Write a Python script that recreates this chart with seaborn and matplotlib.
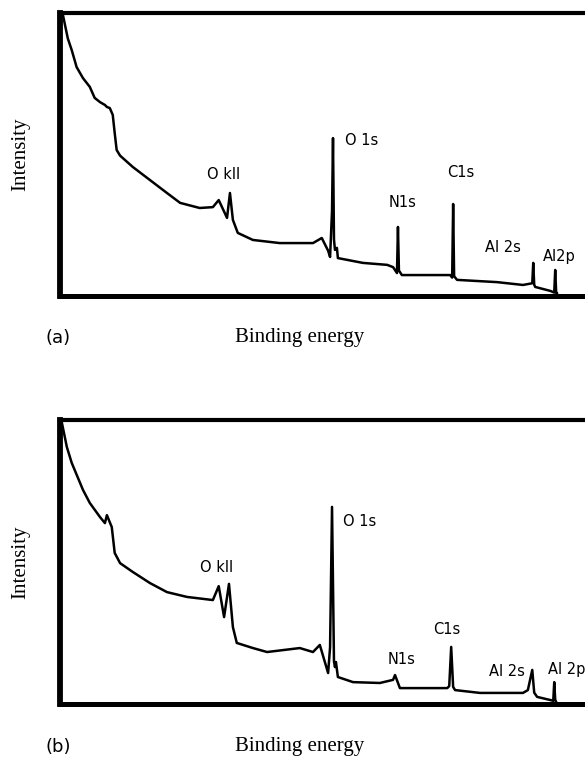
import numpy as np
import pandas as pd
import matplotlib
matplotlib.use("Agg")
import matplotlib.pyplot as plt
import seaborn as sns

# ---------------- DATA ----------------
# binding energy in eV (high on the left), intensity in arbitrary units 0-100
be_a = [1088, 1084, 1074, 1066, 1056, 1043, 1029, 1019, 1008, 998, 994, 988,
        982, 978, 974, 967, 941, 906, 871, 844, 804, 777, 765, 748, 742, 736,
        726, 695, 640, 572, 554, 541, 537, 533, 531, 529, 527, 523, 521, 470,
        420, 408, 400, 398, 396, 390, 332, 291, 287, 285, 283, 277, 195, 142,
        123, 121, 119, 117, 86, 78, 76, 74, 72]
int_a = [100.5, 99.3, 91.0, 86.9, 80.9, 77.0, 73.9, 70.0, 68.5, 67.5, 66.8,
         66.4, 64.0, 57.6, 51.6, 49.6, 45.6, 41.0, 36.4, 32.9, 31.1, 31.4,
         33.9, 27.6, 36.4, 26.9, 22.3, 19.8, 18.7, 18.7, 20.5, 16.0, 13.8,
         30.0, 55.8, 20.0, 16.3, 17.0, 13.4, 11.7, 11.0, 10.2, 8.1, 24.4, 9.0,
         7.4, 7.4, 7.4, 6.5, 32.5, 7.0, 5.7, 4.9, 3.9, 4.5, 11.7, 4.0, 3.2,
         1.8, 1.2, 9.2, 1.1, 1.0]

be_b = [1088, 1086, 1076, 1066, 1043, 1029, 1008, 998, 994, 984, 978, 967,
        941, 906, 871, 830, 777, 765, 754, 744, 736, 728, 695, 666, 599, 572,
        558, 541, 537, 533, 529, 527, 525, 521, 490, 435, 408, 404, 394, 297,
        293, 289, 285, 281, 230, 142, 132, 123, 119, 113, 86, 80, 78, 76, 74]
int_b = [100.5, 98.9, 90.5, 84.9, 75.4, 70.8, 65.8, 63.7, 66.5, 62.3, 53.2,
         49.6, 46.5, 42.6, 39.4, 37.7, 36.6, 41.5, 30.6, 42.3, 27.1, 21.5,
         19.7, 18.3, 19.7, 18.3, 20.8, 10.9, 20.0, 69.4, 15.0, 13.0, 14.8, 9.5,
         7.7, 7.4, 8.5, 10.2, 5.6, 5.6, 6.3, 20.1, 6.0, 4.9, 3.9, 3.9, 4.9,
         12.0, 4.0, 2.5, 1.4, 1.1, 7.7, 1.5, 0.7]

peak_names_a = ["O kll", "O 1s", "N1s", "C1s", "Al 2s", "Al2p"]
peak_names_b = ["O kll", "O 1s", "N1s", "C1s", "Al 2s", "Al 2p"]

df_a = pd.DataFrame({"be": be_a, "intensity": int_a})
df_b = pd.DataFrame({"be": be_b, "intensity": int_b})

# ---------------- STYLE ----------------
sns.set_style("white")
plt.rcParams["font.family"] = ["DejaVu Sans"]
plt.rcParams["text.color"] = "black"
plt.rcParams["axes.labelcolor"] = "black"
serif = ["Liberation Serif", "DejaVu Serif"]

W, H = 585, 758
fig = plt.figure(figsize=(W / 100, H / 100), dpi=100)


def make_axes(top_px, bottom_px):
    return fig.add_axes([60 / W, 1 - bottom_px / H, (W - 60) / W,
                         (bottom_px - top_px) / H])


ax_a = make_axes(13, 296)
ax_b = make_axes(420, 704)

# label anchors (binding energy, intensity) for each panel
pos_a = [(789, 42.8), (506, 55.1), (418, 33.2), (297, 43.5), (220, 17.0), (101, 13.8)]
pos_b = [(804, 47.9), (511, 64.1), (420, 15.5), (326, 26.1), (211, 11.3), (90, 12.0)]

for ax, df, names, pos in [(ax_a, df_a, peak_names_a, pos_a),
                           (ax_b, df_b, peak_names_b, pos_b)]:
    sns.lineplot(data=df, x="be", y="intensity", ax=ax, color="black",
                 linewidth=1.8, estimator=None, sort=False)
    ax.set_xlim(1090, 15)
    ax.set_ylim(0, 100)
    ax.set_xticks([])
    ax.set_yticks([])
    ax.set_xlabel("")
    ax.set_ylabel("Intensity", family=serif, fontsize=15, color="black",
                  va="center")
    ax.yaxis.set_label_coords(-0.074, 0.5)
    ax.spines["right"].set_visible(False)
    for side, lw in [("left", 4.2), ("bottom", 3.6), ("top", 3.0)]:
        ax.spines[side].set_color("black")
        ax.spines[side].set_linewidth(lw)
    for name, (x, y) in zip(names, pos):
        ax.text(x, y, name, fontsize=10.5, ha="left", va="center", color="black")

# panel tags and x labels
for tag, y_px in [("(a)", 338), ("(b)", 747)]:
    fig.text(58 / W, 1 - y_px / H, tag, fontsize=13, ha="center", va="center",
             color="black")
    fig.text(300 / W, 1 - y_px / H, "Binding energy", family=serif,
             fontsize=15, ha="center", va="center", color="black")

fig.savefig("out.png", dpi=100)
